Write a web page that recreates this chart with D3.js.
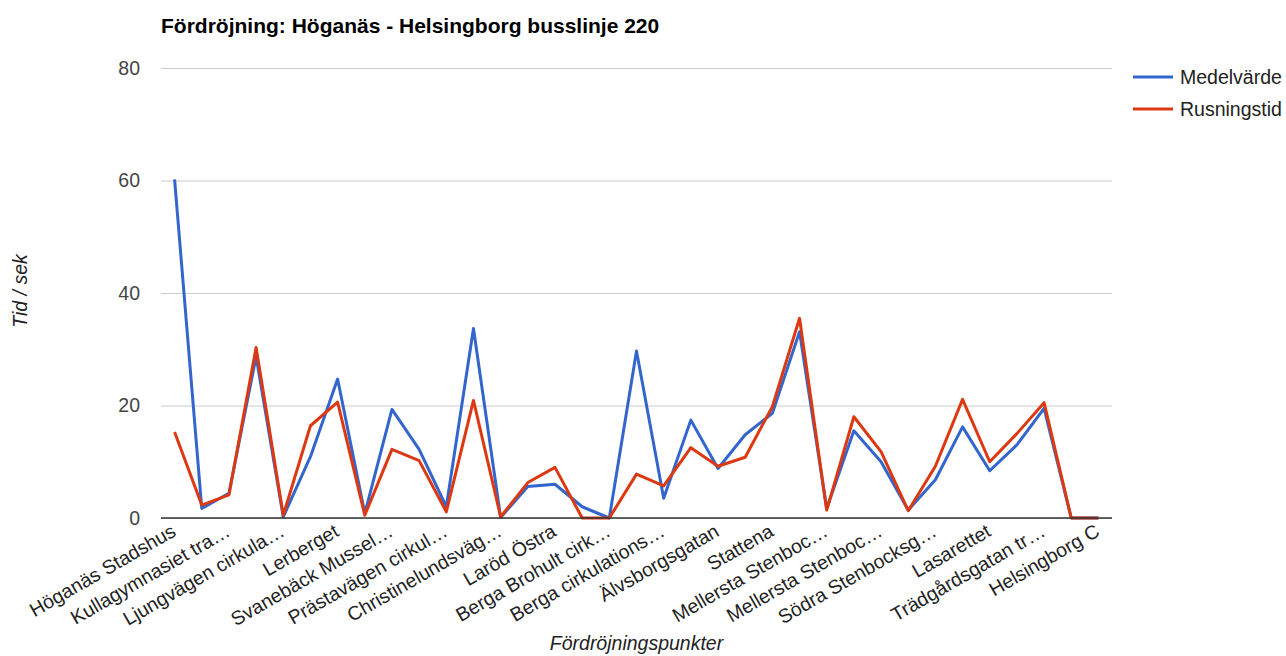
<!DOCTYPE html>
<html>
<head>
<meta charset="utf-8">
<script src="https://cdn.jsdelivr.net/npm/d3@7"></script>
<style>
  html, body { margin: 0; padding: 0; background: #fff; }
  svg { display: block; font-family: Arial, "Liberation Sans", sans-serif; }
</style>
</head>
<body>
<svg id="chart" width="1286" height="656"></svg>
<script>
// Delay per measuring point (seconds), line 220 Höganäs -> Helsingborg
const seriesNames = ["Medelvärde", "Rusningstid"];
const medelvarde = [60.2, 1.7, 4.4, 28.7, 0.2, 10.9, 24.7, 0.8, 19.3, 12.2, 2.0, 33.7, 0.1, 5.6, 6.0, 2.0, 0, 29.7,
  3.5, 17.4, 8.8, 14.8, 18.6, 33.1, 1.7, 15.5, 10.0, 1.4, 6.8, 16.2, 8.4, 13.0, 19.5, 0, 0];
const rusningstid = [15.3, 2.3, 4.1, 30.3, 0.5, 16.4, 20.6, 0.5, 12.2, 10.2, 1.1, 20.9, 0.2, 6.3, 9.0, 0, 0, 7.8,
  5.7, 12.5, 9.2, 10.8, 19.8, 35.5, 1.4, 18.0, 11.8, 1.3, 9.2, 21.1, 10.0, 15.0, 20.5, 0, 0];
// Axis labels shown on every other measuring point
const tickLabels = ["Höganäs Stadshus", "Kullagymnasiet tra…", "Ljungvägen cirkula…", "Lerberget",
  "Svanebäck Mussel…", "Prästavägen cirkul…", "Christinelundsväg…", "Laröd Östra", "Berga Brohult cirk…",
  "Berga cirkulations…", "Älvsborgsgatan", "Stattena", "Mellersta Stenboc…", "Mellersta Stenboc…",
  "Södra Stenbocksg…", "Lasarettet", "Trädgårdsgatan tr…", "Helsingborg C"];
const yTicks = [0, 20, 40, 60, 80];
const colors = ["#3366cc", "#dc3912"];

const svg = d3.select("#chart");
const plot = { left: 161, right: 1112, top: 68, bottom: 518 };
const FS = 19.5;

const indices = d3.range(medelvarde.length);
const x = d3.scalePoint().domain(indices).range([plot.left, plot.right]).padding(0.5);
const y = d3.scaleLinear().domain([0, 80]).range([plot.bottom, plot.top]);

// Title
svg.append("text")
  .attr("x", plot.left).attr("y", 33)
  .attr("font-size", 21).attr("font-weight", "bold").attr("fill", "#000")
  .text("Fördröjning: Höganäs - Helsingborg busslinje 220");

// Gridlines + y tick labels
const yAxis = d3.axisLeft(y).tickValues(yTicks).tickSize(-(plot.right - plot.left)).tickPadding(21);
const gy = svg.append("g").attr("transform", `translate(${plot.left},0)`).call(yAxis);
gy.select(".domain").remove();
gy.selectAll(".tick line").attr("stroke", "#cccccc").attr("stroke-width", 1);
gy.selectAll(".tick text").attr("font-size", FS).attr("fill", "#444").attr("font-family", "Arial, 'Liberation Sans', sans-serif");

// X axis labels on even points
const xAxis = d3.axisBottom(x)
  .tickValues(indices.filter(i => i % 2 === 0))
  .tickSize(0)
  .tickFormat(i => tickLabels[i / 2]);
const gx = svg.append("g").attr("transform", `translate(0,${plot.bottom})`).call(xAxis);
gx.select(".domain").remove();
gx.selectAll(".tick text")
  .attr("font-size", FS).attr("fill", "#222").attr("font-family", "Arial, 'Liberation Sans', sans-serif")
  .attr("text-anchor", "end").attr("dy", null).attr("y", 0)
  .attr("transform", "translate(2,17) rotate(-30)");

// Lines
const line = d3.line().x((d, i) => x(i)).y(d => y(d));
[medelvarde, rusningstid].forEach((s, k) => {
  svg.append("path").datum(s)
    .attr("fill", "none").attr("stroke", colors[k]).attr("stroke-width", 3)
    .attr("stroke-linejoin", "round").attr("d", line);
});

// Baseline
svg.append("line")
  .attr("x1", plot.left).attr("x2", plot.right)
  .attr("y1", y(0)).attr("y2", y(0))
  .attr("stroke", "#333").attr("stroke-width", 1.5);

// Axis titles
svg.append("text")
  .attr("transform", `translate(27,291) rotate(-90)`)
  .attr("text-anchor", "middle").attr("font-size", FS).attr("font-style", "italic").attr("fill", "#222")
  .text("Tid / sek");
svg.append("text")
  .attr("x", (plot.left + plot.right) / 2).attr("y", 650)
  .attr("text-anchor", "middle").attr("font-size", FS).attr("font-style", "italic").attr("fill", "#222")
  .text("Fördröjningspunkter");

// Legend
const legend = svg.append("g").attr("transform", "translate(1133,77)");
seriesNames.forEach((name, k) => {
  const g = legend.append("g").attr("transform", `translate(0,${k * 32})`);
  g.append("line").attr("x1", 0).attr("x2", 40).attr("y1", 0).attr("y2", 0)
    .attr("stroke", colors[k]).attr("stroke-width", 3);
  g.append("text").attr("x", 47).attr("y", 0).attr("dy", "0.35em")
    .attr("font-size", FS).attr("fill", "#222").text(name);
});
</script>
</body>
</html>
